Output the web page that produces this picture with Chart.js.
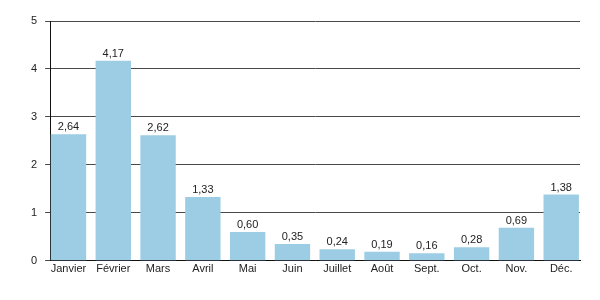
<!DOCTYPE html>
<html><head><meta charset="utf-8">
<script src="https://cdn.jsdelivr.net/npm/chart.js@4"></script>
<style>html,body{margin:0;padding:0;background:#fff}#wrap{width:600px;height:300px}</style>
</head><body><div id="wrap"><canvas id="c"></canvas></div>
<script>
const months = ["Janvier","Février","Mars","Avril","Mai","Juin","Juillet","Août","Sept.","Oct.","Nov.","Déc."];
const values = [2.64,4.17,2.62,1.33,0.60,0.35,0.24,0.19,0.16,0.28,0.69,1.38];
const yTicks = [0,1,2,3,4,5];

const fmt = v => v.toFixed(2).replace('.', ',');
const labelPlugin = {
  id: 'vals',
  afterDatasetsDraw(chart) {
    const ctx = chart.ctx;
    const meta = chart.getDatasetMeta(0);
    ctx.save();
    ctx.font = '11px "Liberation Sans", Arial, sans-serif';
    ctx.fillStyle = '#222';
    ctx.textAlign = 'center';
    ctx.textBaseline = 'alphabetic';
    meta.data.forEach((bar, i) => {
      ctx.fillText(fmt(values[i]), bar.x, bar.y - 4);
    });
    ctx.restore();
  }
};

new Chart(document.getElementById('c'), {
  type: 'bar',
  data: {
    datasets: [{
      data: values.map((v, i) => ({x: i, y: v})),
      backgroundColor: '#9dcde4',
      borderWidth: 0,
      barPercentage: 0.79,
      categoryPercentage: 1
    }]
  },
  plugins: [labelPlugin],
  options: {
    responsive: true,
    maintainAspectRatio: false,
    animation: false,
    layout: {padding: {top: 21, right: 20, left: 23, bottom: 22}},
    plugins: {legend: {display: false}, tooltip: {enabled: false}},
    scales: {
      x: {
        type: 'linear',
        offset: false,
        min: -0.41,
        max: 11.42,
        grid: {display: false, offset: false, tickLength: 0, drawTicks: false},
        border: {display: true, color: '#111', width: 1},
        ticks: {
          stepSize: 1,
          includeBounds: false,
          autoSkip: false,
          maxRotation: 0,
          padding: 2,
          color: '#222',
          font: {family: '"Liberation Sans", Arial, sans-serif', size: 11},
          callback: v => Number.isInteger(v) && months[v] !== undefined ? months[v] : ''
        }
      },
      y: {
        min: 0,
        max: 5,
        afterBuildTicks: s => { s.ticks = yTicks.map(v => ({value: v})); },
        grid: {color: '#4a4a4a', lineWidth: 1, tickLength: 5, drawTicks: true},
        border: {display: true, color: '#111', width: 1},
        ticks: {
          padding: 8,
          color: '#222',
          font: {family: '"Liberation Sans", Arial, sans-serif', size: 11}
        }
      }
    }
  }
});
</script></body></html>
